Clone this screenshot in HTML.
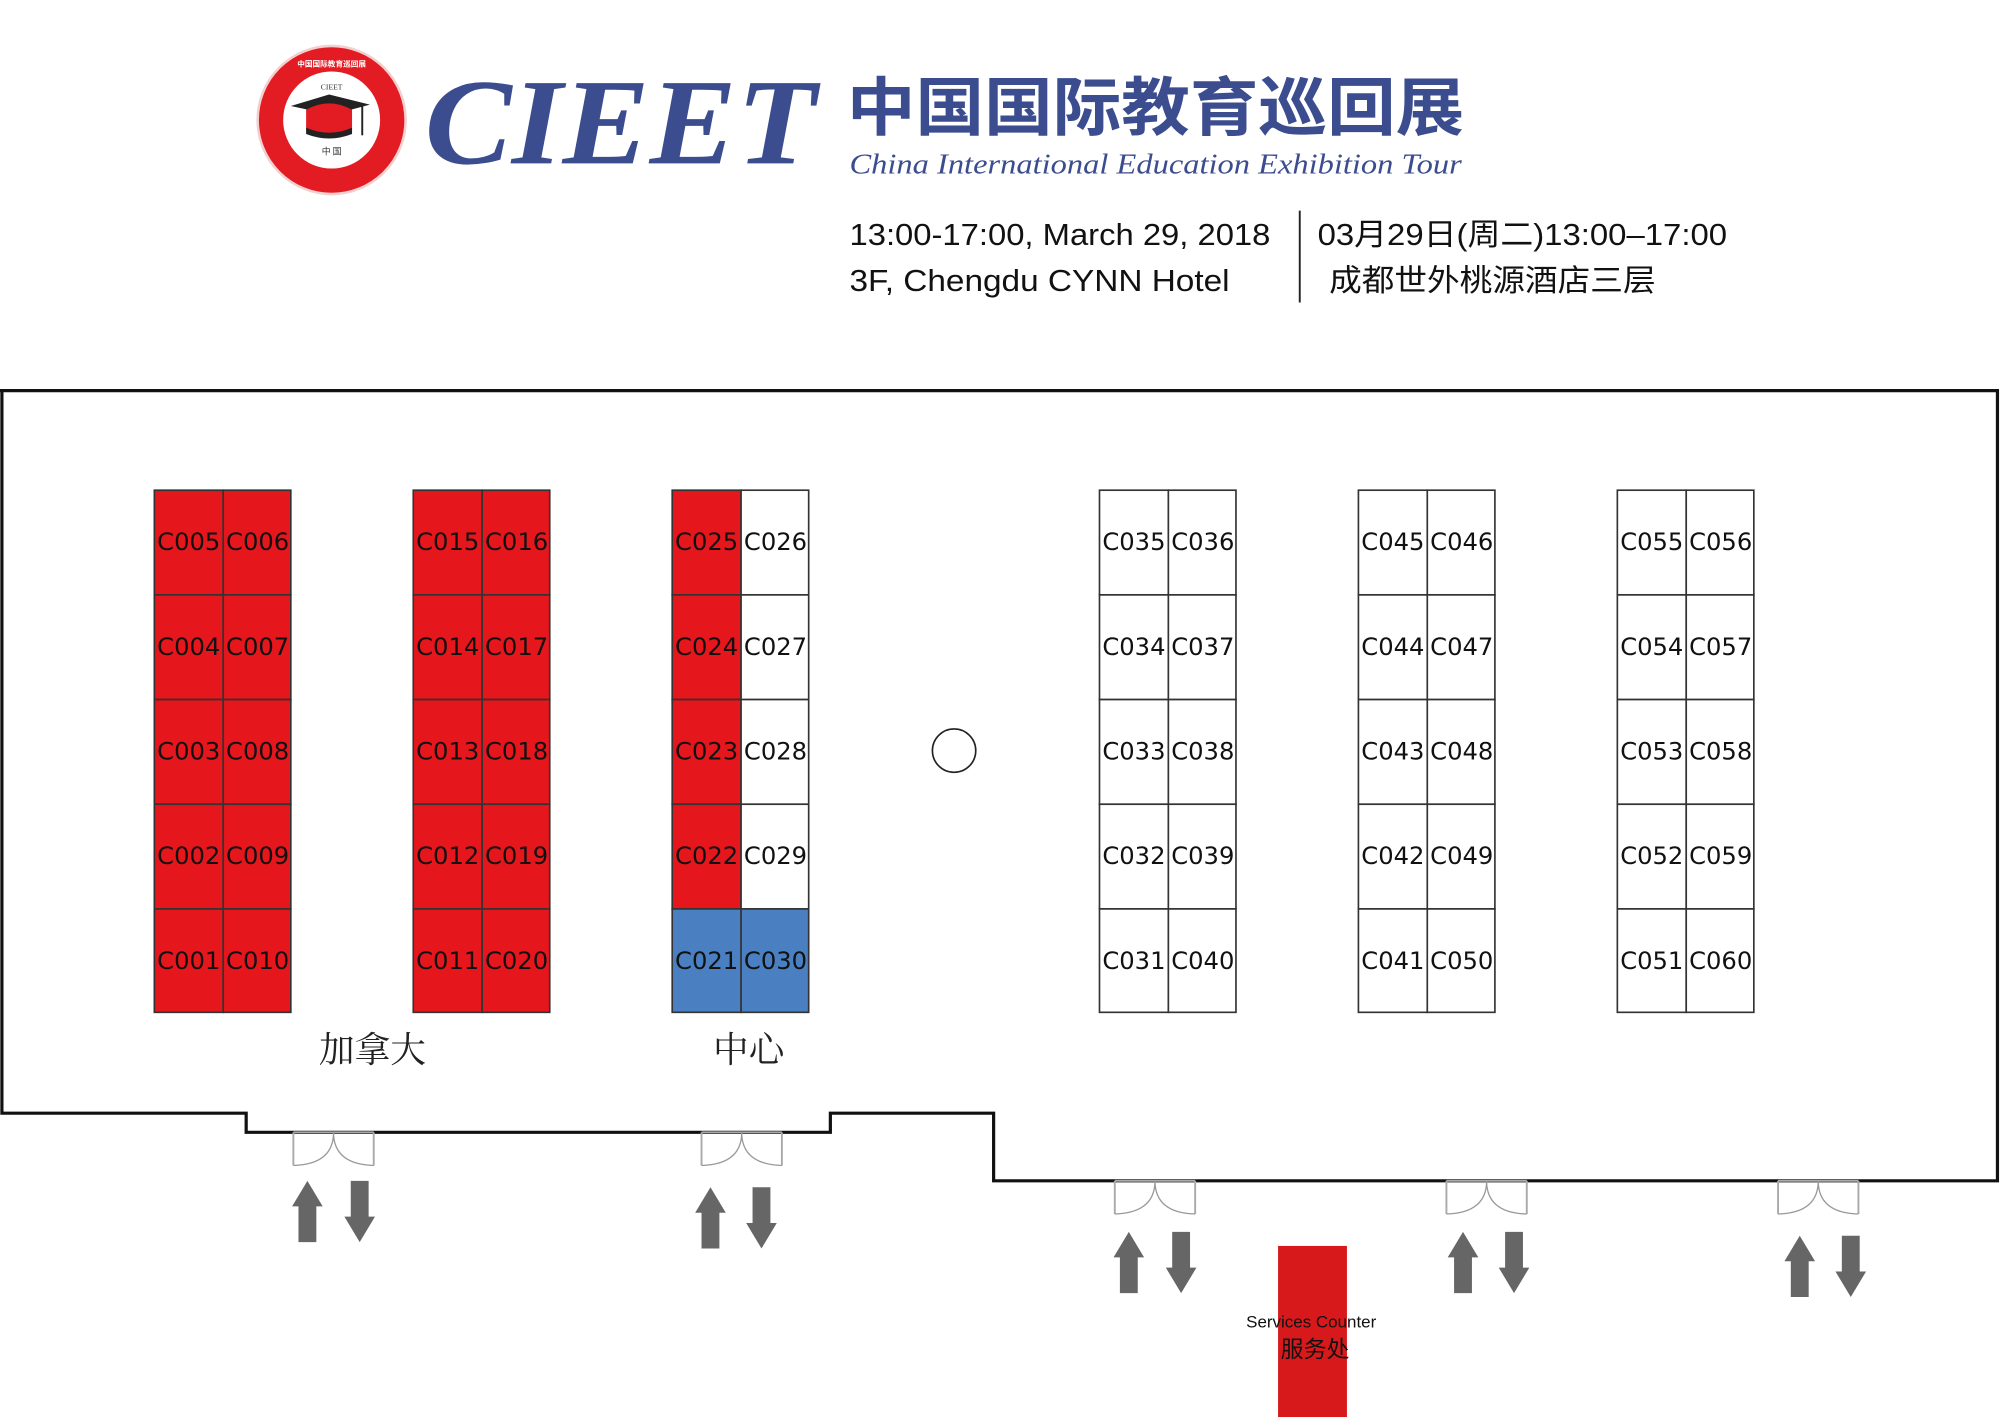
<!DOCTYPE html>
<html><head><meta charset="utf-8">
<style>
html,body{margin:0;padding:0;background:#fff;}
svg{display:block;}
.b{font-family:"DejaVu Sans","Liberation Sans",sans-serif;font-size:19px;fill:#111;text-anchor:middle;}
</style></head>
<body>
<svg width="2000" height="1417" viewBox="0 0 1568 1110" preserveAspectRatio="none" xmlns="http://www.w3.org/2000/svg">
<rect width="1568" height="1110" fill="#fff"/>
<!-- Logo -->
<circle cx="260" cy="94" r="58" fill="#e31b23" stroke="#f2d0d0" stroke-width="2"/>
<circle cx="260" cy="94" r="38" fill="#fff"/>
<text x="260" y="70" font-family="Liberation Serif,serif" font-size="6" text-anchor="middle" fill="#333">CIEET</text>
<polygon points="228,83 258,74 290,82 260,90" fill="#222"/>
<path d="M240,86 Q258,76 276,86 L276,102 Q258,110 240,102 Z" fill="#e31b23"/>
<path d="M240,100 Q258,108 276,100 L276,105 Q258,112 240,105 Z" fill="#222"/>
<line x1="284" y1="83" x2="284" y2="106" stroke="#222" stroke-width="1.5"/>
<text x="260" y="121" font-family="Noto Sans CJK SC,sans-serif" font-size="7" text-anchor="middle" fill="#333">中 国</text>
<text x="260" y="52" font-family="Noto Sans CJK SC,sans-serif" font-size="6" text-anchor="middle" fill="#fff" font-weight="bold">中国国际教育巡回展</text>
<!-- CIEET -->
<text x="333" y="128" font-family="Liberation Serif,serif" font-size="96" font-style="italic" font-weight="bold" fill="#3b4d8e" textLength="307" lengthAdjust="spacingAndGlyphs">CIEET</text>
<text x="664" y="102" font-family="Noto Sans CJK SC,sans-serif" font-size="50" font-weight="bold" fill="#3b4d8e" textLength="484" lengthAdjust="spacingAndGlyphs">中国国际教育巡回展</text>
<text x="666" y="136" font-family="Liberation Serif,serif" font-size="22" font-style="italic" fill="#3b4d8e" textLength="480" lengthAdjust="spacingAndGlyphs">China International Education Exhibition Tour</text>
<!-- info -->
<g font-family="Liberation Sans,Noto Sans CJK SC,sans-serif" font-size="24" fill="#111">
<text x="666" y="192" textLength="330" lengthAdjust="spacingAndGlyphs">13:00-17:00, March 29, 2018</text>
<text x="666" y="228" textLength="298" lengthAdjust="spacingAndGlyphs">3F, Chengdu CYNN Hotel</text>
<text x="1033" y="192" textLength="321" lengthAdjust="spacingAndGlyphs">03月29日(周二)13:00–17:00</text>
<text x="1042" y="228" textLength="256" lengthAdjust="spacingAndGlyphs">成都世外桃源酒店三层</text>
</g>
<line x1="1019" y1="165" x2="1019" y2="237" stroke="#222" stroke-width="1.5"/>
<!-- floor outline -->
<path d="M0,306 H1566 V925 H779 V872 H651 V887 H193 V872 H1.5 V306" fill="none" stroke="#111" stroke-width="2.5"/>
<!-- booths -->
<g stroke="#333" stroke-width="1.3">
<!-- col1 -->
<rect x="121" y="384" width="54" height="82" fill="#e5161c"/><rect x="175" y="384" width="53" height="82" fill="#e5161c"/>
<rect x="121" y="466" width="54" height="82" fill="#e5161c"/><rect x="175" y="466" width="53" height="82" fill="#e5161c"/>
<rect x="121" y="548" width="54" height="82" fill="#e5161c"/><rect x="175" y="548" width="53" height="82" fill="#e5161c"/>
<rect x="121" y="630" width="54" height="82" fill="#e5161c"/><rect x="175" y="630" width="53" height="82" fill="#e5161c"/>
<rect x="121" y="712" width="54" height="81" fill="#e5161c"/><rect x="175" y="712" width="53" height="81" fill="#e5161c"/>
<!-- col2 -->
<rect x="324" y="384" width="54" height="82" fill="#e5161c"/><rect x="378" y="384" width="53" height="82" fill="#e5161c"/>
<rect x="324" y="466" width="54" height="82" fill="#e5161c"/><rect x="378" y="466" width="53" height="82" fill="#e5161c"/>
<rect x="324" y="548" width="54" height="82" fill="#e5161c"/><rect x="378" y="548" width="53" height="82" fill="#e5161c"/>
<rect x="324" y="630" width="54" height="82" fill="#e5161c"/><rect x="378" y="630" width="53" height="82" fill="#e5161c"/>
<rect x="324" y="712" width="54" height="81" fill="#e5161c"/><rect x="378" y="712" width="53" height="81" fill="#e5161c"/>
<!-- col3 -->
<rect x="527" y="384" width="54" height="82" fill="#e5161c"/><rect x="581" y="384" width="53" height="82" fill="#fff"/>
<rect x="527" y="466" width="54" height="82" fill="#e5161c"/><rect x="581" y="466" width="53" height="82" fill="#fff"/>
<rect x="527" y="548" width="54" height="82" fill="#e5161c"/><rect x="581" y="548" width="53" height="82" fill="#fff"/>
<rect x="527" y="630" width="54" height="82" fill="#e5161c"/><rect x="581" y="630" width="53" height="82" fill="#fff"/>
<rect x="527" y="712" width="54" height="81" fill="#4a80c2"/><rect x="581" y="712" width="53" height="81" fill="#4a80c2"/>
<!-- white cols -->
<g fill="#fff">
<rect x="862" y="384" width="54" height="82"/><rect x="916" y="384" width="53" height="82"/>
<rect x="862" y="466" width="54" height="82"/><rect x="916" y="466" width="53" height="82"/>
<rect x="862" y="548" width="54" height="82"/><rect x="916" y="548" width="53" height="82"/>
<rect x="862" y="630" width="54" height="82"/><rect x="916" y="630" width="53" height="82"/>
<rect x="862" y="712" width="54" height="81"/><rect x="916" y="712" width="53" height="81"/>
<rect x="1065" y="384" width="54" height="82"/><rect x="1119" y="384" width="53" height="82"/>
<rect x="1065" y="466" width="54" height="82"/><rect x="1119" y="466" width="53" height="82"/>
<rect x="1065" y="548" width="54" height="82"/><rect x="1119" y="548" width="53" height="82"/>
<rect x="1065" y="630" width="54" height="82"/><rect x="1119" y="630" width="53" height="82"/>
<rect x="1065" y="712" width="54" height="81"/><rect x="1119" y="712" width="53" height="81"/>
<rect x="1268" y="384" width="54" height="82"/><rect x="1322" y="384" width="53" height="82"/>
<rect x="1268" y="466" width="54" height="82"/><rect x="1322" y="466" width="53" height="82"/>
<rect x="1268" y="548" width="54" height="82"/><rect x="1322" y="548" width="53" height="82"/>
<rect x="1268" y="630" width="54" height="82"/><rect x="1322" y="630" width="53" height="82"/>
<rect x="1268" y="712" width="54" height="81"/><rect x="1322" y="712" width="53" height="81"/>
</g>
</g>
<g class="b">
<text x="148" y="431">C005</text><text x="202" y="431">C006</text>
<text x="148" y="513">C004</text><text x="202" y="513">C007</text>
<text x="148" y="595">C003</text><text x="202" y="595">C008</text>
<text x="148" y="677">C002</text><text x="202" y="677">C009</text>
<text x="148" y="759">C001</text><text x="202" y="759">C010</text>
<text x="351" y="431">C015</text><text x="405" y="431">C016</text>
<text x="351" y="513">C014</text><text x="405" y="513">C017</text>
<text x="351" y="595">C013</text><text x="405" y="595">C018</text>
<text x="351" y="677">C012</text><text x="405" y="677">C019</text>
<text x="351" y="759">C011</text><text x="405" y="759">C020</text>
<text x="554" y="431">C025</text><text x="608" y="431">C026</text>
<text x="554" y="513">C024</text><text x="608" y="513">C027</text>
<text x="554" y="595">C023</text><text x="608" y="595">C028</text>
<text x="554" y="677">C022</text><text x="608" y="677">C029</text>
<text x="554" y="759">C021</text><text x="608" y="759">C030</text>
<text x="889" y="431">C035</text><text x="943" y="431">C036</text>
<text x="889" y="513">C034</text><text x="943" y="513">C037</text>
<text x="889" y="595">C033</text><text x="943" y="595">C038</text>
<text x="889" y="677">C032</text><text x="943" y="677">C039</text>
<text x="889" y="759">C031</text><text x="943" y="759">C040</text>
<text x="1092" y="431">C045</text><text x="1146" y="431">C046</text>
<text x="1092" y="513">C044</text><text x="1146" y="513">C047</text>
<text x="1092" y="595">C043</text><text x="1146" y="595">C048</text>
<text x="1092" y="677">C042</text><text x="1146" y="677">C049</text>
<text x="1092" y="759">C041</text><text x="1146" y="759">C050</text>
<text x="1295" y="431">C055</text><text x="1349" y="431">C056</text>
<text x="1295" y="513">C054</text><text x="1349" y="513">C057</text>
<text x="1295" y="595">C053</text><text x="1349" y="595">C058</text>
<text x="1295" y="677">C052</text><text x="1349" y="677">C059</text>
<text x="1295" y="759">C051</text><text x="1349" y="759">C060</text>
</g>
<circle cx="748" cy="588" r="17" fill="#fff" stroke="#222" stroke-width="1.3"/>
<g font-family="Noto Serif CJK SC,Noto Sans CJK SC,serif" font-size="28" fill="#222" text-anchor="middle">
<text x="292" y="832">加拿大</text>
<text x="587" y="832">中心</text>
</g>
<!-- doors -->
<g fill="#fff" stroke="#999" stroke-width="1">
<g id="d1"><path d="M230,887 H293 M230,887 V913 M293,887 V913" stroke="#aaa" stroke-width="1.5"/><path d="M261.5,887 Q261.5,912 230,913 M261.5,887 Q261.5,912 293,913" fill="none"/></g>
<g transform="translate(320,0)"><path d="M230,887 H293 M230,887 V913 M293,887 V913" stroke="#aaa" stroke-width="1.5"/><path d="M261.5,887 Q261.5,912 230,913 M261.5,887 Q261.5,912 293,913" fill="none"/></g>
<g transform="translate(644,38)"><path d="M230,887 H293 M230,887 V913 M293,887 V913" stroke="#aaa" stroke-width="1.5"/><path d="M261.5,887 Q261.5,912 230,913 M261.5,887 Q261.5,912 293,913" fill="none"/></g>
<g transform="translate(904,38)"><path d="M230,887 H293 M230,887 V913 M293,887 V913" stroke="#aaa" stroke-width="1.5"/><path d="M261.5,887 Q261.5,912 230,913 M261.5,887 Q261.5,912 293,913" fill="none"/></g>
<g transform="translate(1164,38)"><path d="M230,887 H293 M230,887 V913 M293,887 V913" stroke="#aaa" stroke-width="1.5"/><path d="M261.5,887 Q261.5,912 230,913 M261.5,887 Q261.5,912 293,913" fill="none"/></g>
</g>
<!-- arrows: up centered at x, top y; down -->
<g fill="#666">
<path d="M241,925 l12,20 h-5 v28 h-14 v-28 h-5 z"/>
<path d="M282,973 l12,-20 h-5 v-28 h-14 v28 h-5 z"/>
<path d="M557,930 l12,20 h-5 v28 h-14 v-28 h-5 z"/>
<path d="M597,978 l12,-20 h-5 v-28 h-14 v28 h-5 z"/>
<path d="M885,965 l12,20 h-5 v28 h-14 v-28 h-5 z"/>
<path d="M926,1013 l12,-20 h-5 v-28 h-14 v28 h-5 z"/>
<path d="M1147,965 l12,20 h-5 v28 h-14 v-28 h-5 z"/>
<path d="M1187,1013 l12,-20 h-5 v-28 h-14 v28 h-5 z"/>
<path d="M1411,968 l12,20 h-5 v28 h-14 v-28 h-5 z"/>
<path d="M1451,1016 l12,-20 h-5 v-28 h-14 v28 h-5 z"/>
</g>
<!-- services counter -->
<rect x="1002" y="976" width="54" height="134" fill="#d7191c"/>
<text x="1028" y="1040" font-family="Liberation Sans,sans-serif" font-size="13" fill="#111" text-anchor="middle" textLength="102" lengthAdjust="spacingAndGlyphs">Services Counter</text>
<text x="1031" y="1063" font-family="Noto Sans CJK SC,sans-serif" font-size="18" fill="#111" text-anchor="middle">服务处</text>
</svg>
</body></html>
